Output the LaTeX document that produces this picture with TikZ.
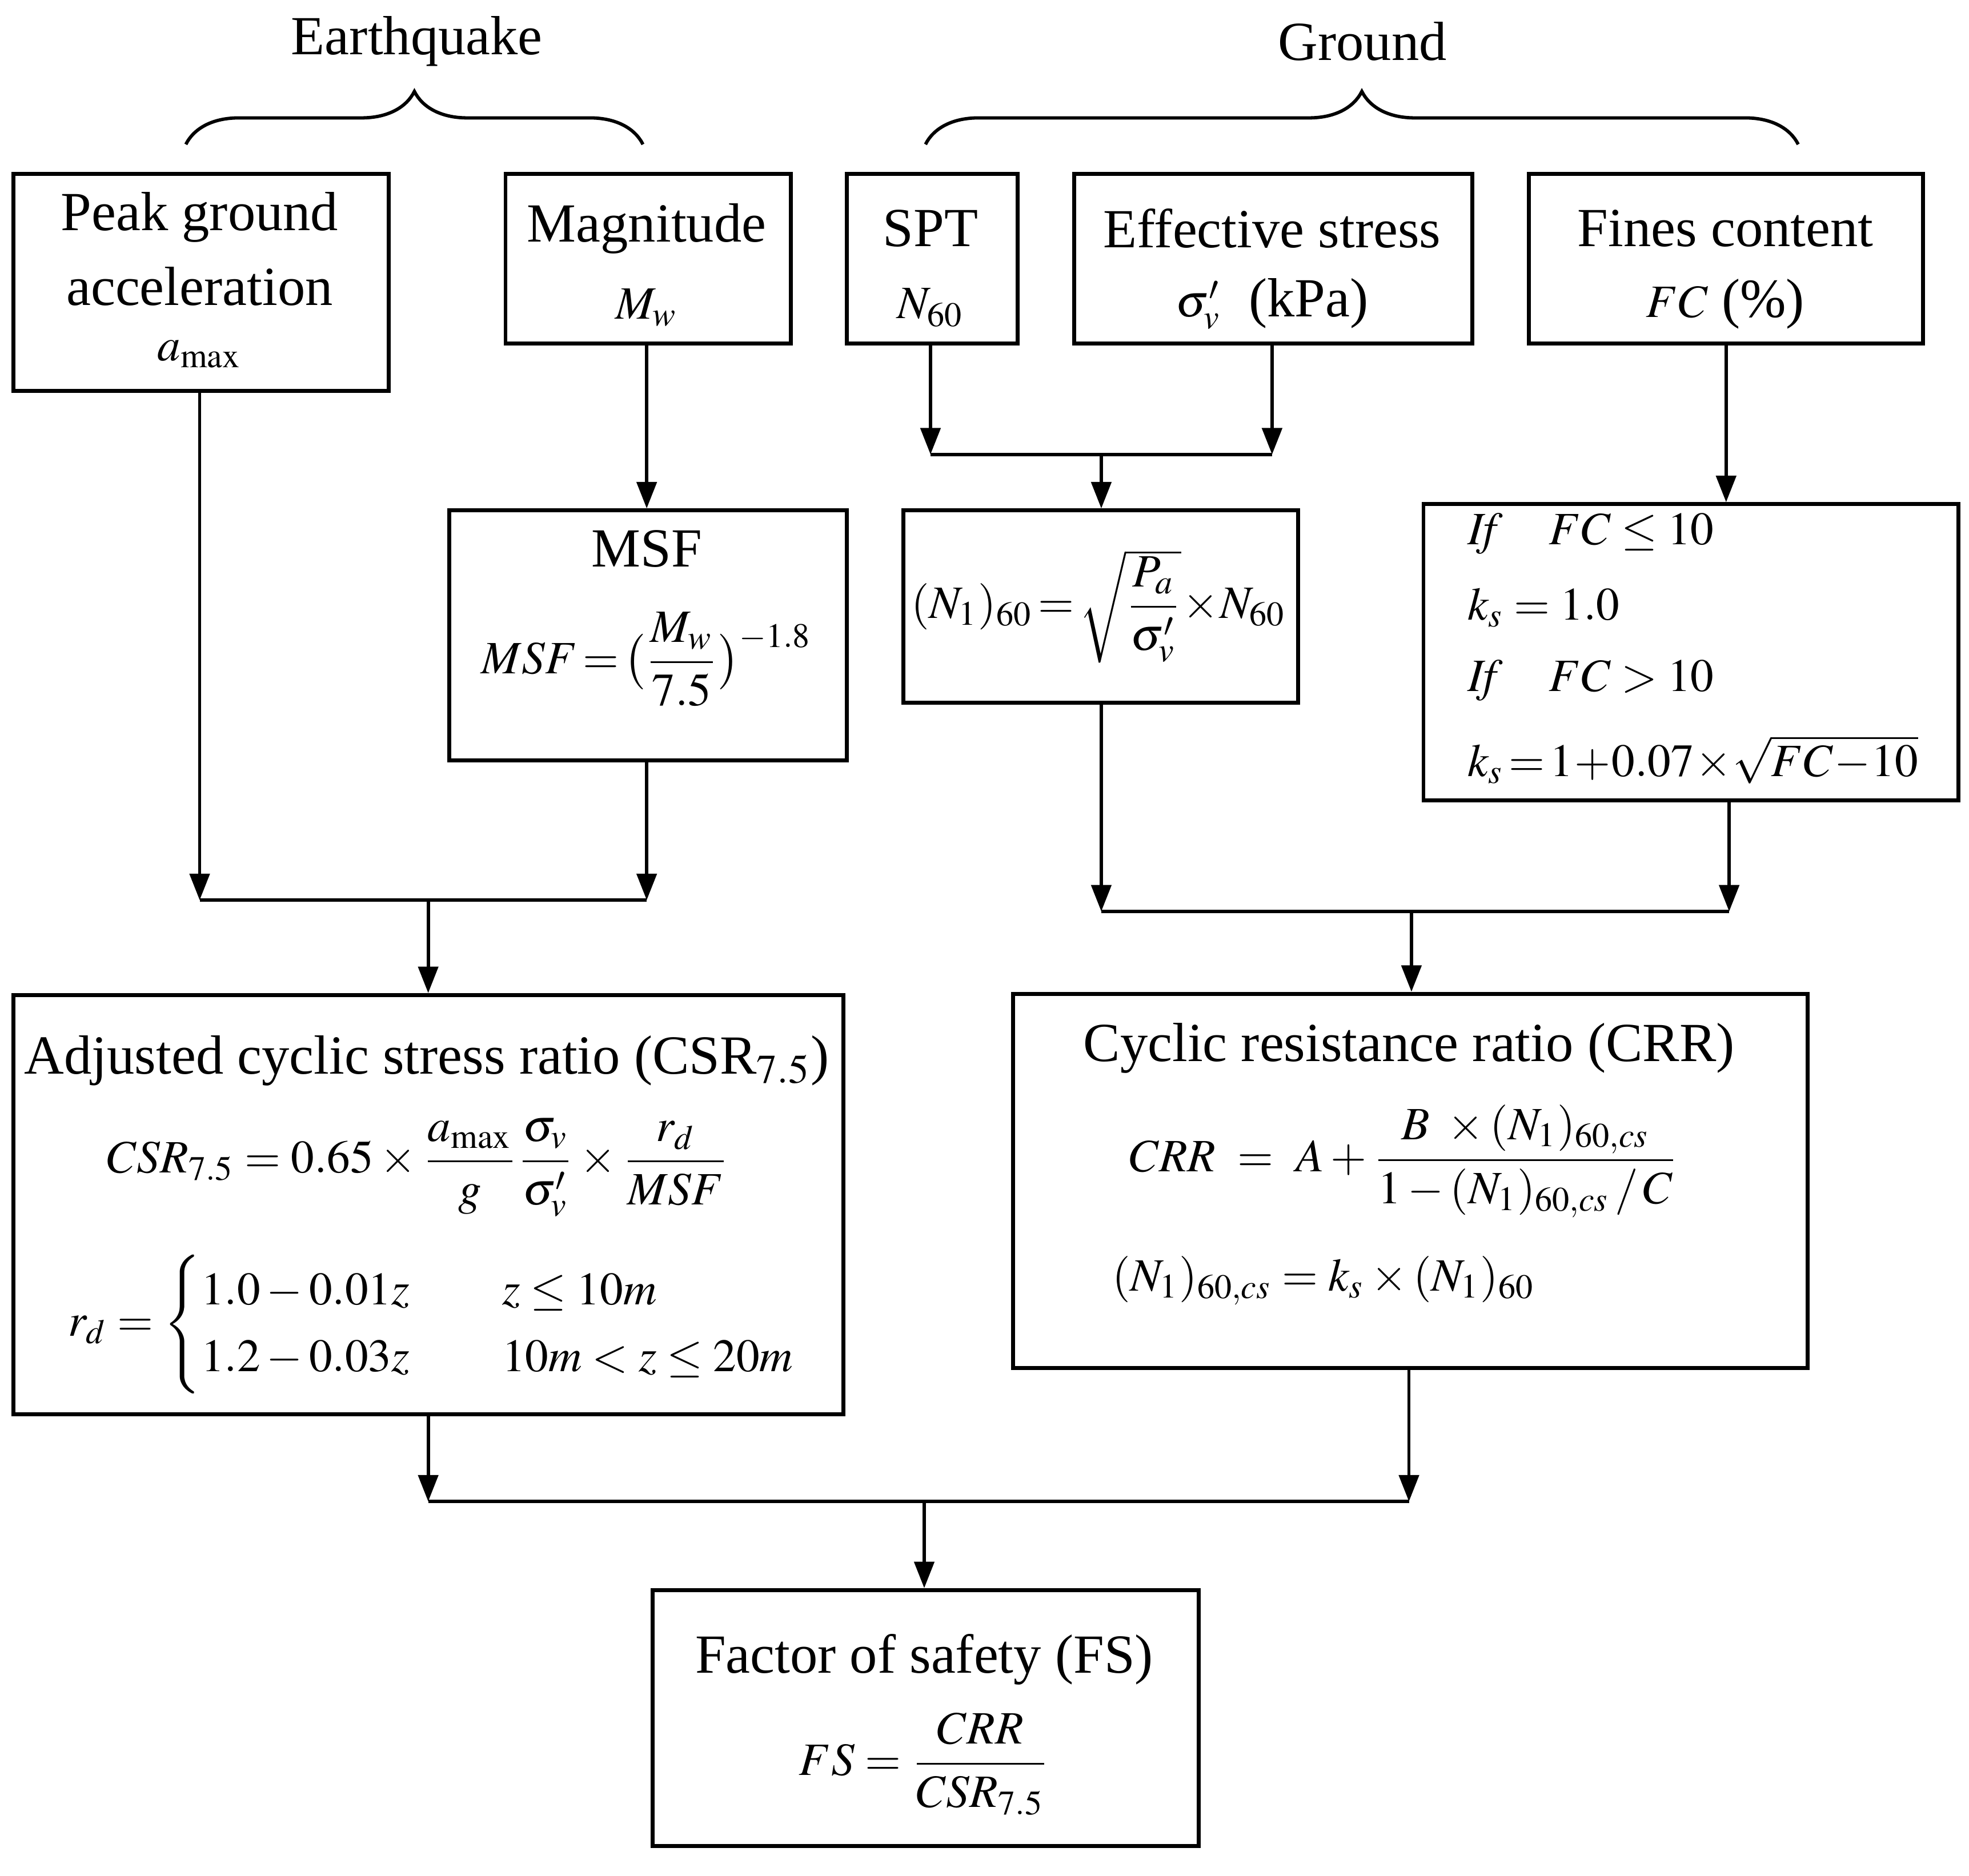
\documentclass[tikz,border=0pt]{standalone}
\usepackage{amsmath}
\usepackage{mathptmx}
\usepackage{fontspec}
\setmainfont{Liberation Serif}
\usetikzlibrary{arrows.meta,decorations.pathreplacing}
\begin{document}
\begin{tikzpicture}[x=0.1mm,y=-0.1mm,
  box/.style={draw,line width=0.9pt,anchor=north west,inner sep=0pt},
  t/.style={inner sep=0pt,font=\fontsize{12.5}{15}\selectfont},
  fm/.style={inner sep=0pt,font=\fontsize{10.5}{12.6}\selectfont},
  ln/.style={line width=0.75pt},
  ar/.style={ln,-{Triangle[length=6pt,width=4.5pt]}}]
\useasboundingbox (0,0) rectangle (1568,1494);
\fontsize{12.5}{15}\selectfont
% braces
\draw[ln,decorate,decoration={brace,amplitude=12pt}] (148,115) -- (512,115);
\draw[ln,decorate,decoration={brace,amplitude=12pt}] (737,115) -- (1432,115);
\node[t] (eq) at (332,33) {Earthquake};
\node[t] (gr) at (1085,33) {Ground};
% boxes
\node[box,minimum width=29.9mm,minimum height=17.3mm] (pga) at (9,137) {};
\node[box,minimum width=22.7mm,minimum height=13.5mm] (mag) at (401,137) {};
\node[box,minimum width=13.6mm,minimum height=13.5mm] (spt) at (673,137) {};
\node[box,minimum width=31.7mm,minimum height=13.5mm] (eff) at (854,137) {};
\node[box,minimum width=31.4mm,minimum height=13.5mm] (fines) at (1216,137) {};
\node[box,minimum width=31.7mm,minimum height=19.9mm] (msf) at (356,405) {};
\node[box,minimum width=31.4mm,minimum height=15.3mm] (n1) at (718,405) {};
\node[box,minimum width=42.6mm,minimum height=23.6mm] (ks) at (1132,400) {};
\node[box,minimum width=66.1mm,minimum height=33.4mm] (csr) at (9,791) {};
\node[box,minimum width=63.3mm,minimum height=29.8mm] (crr) at (805,790) {};
\node[box,minimum width=43.5mm,minimum height=20.4mm] (fs) at (518,1265) {};
% texts
\node[t] (pga1) at (159,173) {Peak ground};
\node[t] (pga2) at (159,228) {acceleration};
\node[fm] (pga3) at (159,282) {$a_{\max}$};
\node[t] (mag1) at (515,182) {Magnitude};
\node[fm] (mag2) at (515,245) {$M_w$};
\node[t] (spt1) at (741,182) {SPT};
\node[fm] (spt2) at (741,245) {$N_{60}$};
\node[t] (eff1) at (1013,182) {Effective stress};
\node[t] (eff2) at (1013,242) {{\fontsize{10.5}{12}\selectfont$\sigma'_v$}\ \ (kPa)};
\node[t] (fc1) at (1374,182) {Fines content};
\node[t] (fc2) at (1374,242) {{\fontsize{10.5}{12}\selectfont$FC$} (\%)};
\node[t] (msf1) at (515,437) {MSF};
\node[fm] (msf2) at (515,525) {$MSF\!=\!\big(\dfrac{M_w}{7.5}\big)^{-1.8}$};
\node[fm] (n1f) at (875,483) {$(N_1)_{60}\!=\!\sqrt{\dfrac{P_a}{\sigma'_v}}\!\times\! N_{60}$};
\node[fm,anchor=west] (ks1) at (1168,425) {$\mathit{If}\quad FC\le 10$};
\node[fm,anchor=west] (ks2) at (1168,484) {$k_s=1.0$};
\node[fm,anchor=west] (ks3) at (1168,542) {$\mathit{If}\quad FC>10$};
\node[fm,anchor=west] (ks4) at (1168,605) {$k_s\!=\!1\!+\!0.07\!\times\!\sqrt{FC\!-\!10}$};
\node[t] (csr1) at (340,845) {Adjusted cyclic stress ratio (CSR$_{7.5}$)};
\node[fm] (csr2) at (333,930) {$CSR_{7.5}=0.65\times\dfrac{a_{\max}}{g}\dfrac{\sigma_v}{\sigma'_v}\times\dfrac{r_d}{MSF}$};
\node[fm] (csr3) at (345,1055) {$r_d=\begin{cases}1.0-0.01z & \quad z\le 10m\\ 1.2-0.03z & \quad 10m<z\le 20m\end{cases}$};
\node[t] (crr1) at (1122,835) {Cyclic resistance ratio (CRR)};
\node[fm] (crr2) at (1118,925) {$CRR\ =\ A+\dfrac{B\ \times(N_1)_{60,cs}}{1-(N_1)_{60,cs}\,/\,C}$};
\node[fm,anchor=west] (crr3) at (885,1020) {$(N_1)_{60,cs}=k_s\times(N_1)_{60}$};
\node[t] (fs1) at (736,1322) {Factor of safety (FS)};
\node[fm] (fs2) at (736,1405) {$FS=\dfrac{CRR}{CSR_{7.5}}$};
% junctions
\coordinate (ja) at (159,717); \coordinate (jb) at (515,717); \coordinate (jc) at (341,717);
\coordinate (jd) at (741,362); \coordinate (je) at (1013,362); \coordinate (jf) at (877,362);
\coordinate (jg) at (877,726); \coordinate (jh) at (1377,726); \coordinate (ji) at (1124,726);
\coordinate (jj) at (341,1196); \coordinate (jk) at (1122,1196); \coordinate (jl) at (736,1196);
% connectors
\draw[ar] (pga.south -| ja) -- (ja);
\draw[ar] (msf.south -| jb) -- (jb);
\draw[ar] (mag.south -| jb) -- (msf.north -| jb);
\draw[ln] (ja) -- (jb);
\draw[ar] (jc) -- (csr.north -| jc);
\draw[ar] (spt.south -| jd) -- (jd);
\draw[ar] (eff.south -| je) -- (je);
\draw[ln] (jd) -- (je);
\draw[ar] (jf) -- (n1.north -| jf);
\draw[ar] (fines.south) -- (ks.north -| fines.south);
\draw[ar] (n1.south -| jg) -- (jg);
\draw[ar] (ks.south -| jh) -- (jh);
\draw[ln] (jg) -- (jh);
\draw[ar] (ji) -- (crr.north -| ji);
\draw[ar] (csr.south -| jj) -- (jj);
\draw[ar] (crr.south -| jk) -- (jk);
\draw[ln] (jj) -- (jk);
\draw[ar] (jl) -- (fs.north -| jl);
\end{tikzpicture}
\end{document}
